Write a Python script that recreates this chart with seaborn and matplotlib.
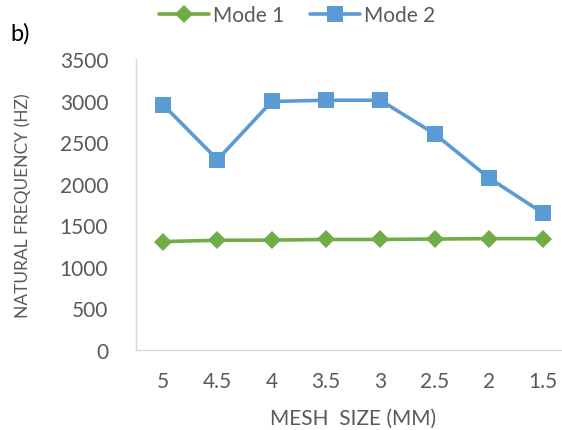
import matplotlib
matplotlib.use("Agg")
import matplotlib.pyplot as plt
import seaborn as sns
import pandas as pd

mesh_sizes = ["5", "4.5", "4", "3.5", "3", "2.5", "2", "1.5"]
mode1 = [1305, 1320, 1322, 1330, 1330, 1335, 1340, 1340]
mode2 = [2950, 2290, 2990, 3005, 3005, 2600, 2070, 1645]

sns.set_theme(style="white")
plt.rcParams["font.family"] = ["Lato", "DejaVu Sans"]

df = pd.DataFrame({
    "mesh": mesh_sizes * 2,
    "freq": mode1 + mode2,
    "mode": ["Mode 1"] * len(mode1) + ["Mode 2"] * len(mode2),
})

fig = plt.figure(figsize=(5.62, 4.31), dpi=100)
ax = fig.add_axes([0.242, 0.1856, 0.773, 0.675])

palette = {"Mode 1": "#70AD47", "Mode 2": "#5B9BD5"}
markers = {"Mode 1": "D", "Mode 2": "s"}
sizes = {"Mode 1": 9.5, "Mode 2": 12}

for mode in ["Mode 1", "Mode 2"]:
    sub = df[df["mode"] == mode]
    sns.lineplot(data=sub, x="mesh", y="freq", ax=ax, color=palette[mode],
                 marker=markers[mode], markersize=sizes[mode], linewidth=2.6,
                 markeredgewidth=0, label=mode, sort=False)

ax.set_xlim(-0.5, len(mesh_sizes) - 0.5)
ax.set_ylim(0, 3500)
ax.set_yticks(range(0, 3501, 500))

txt = "#595959"
ax.tick_params(axis="both", colors=txt, labelsize=15, length=0)
ax.tick_params(axis="x", pad=15)
ax.tick_params(axis="y", pad=20)

for side in ["top", "right"]:
    ax.spines[side].set_visible(False)
for side in ["left", "bottom"]:
    ax.spines[side].set_color("#D9D9D9")
    ax.spines[side].set_linewidth(1.0)

ax.set_xlabel("MESH  SIZE (MM)", color=txt, fontsize=15, labelpad=12)
ax.set_ylabel("NATURAL FREQUENCY (HZ)", color=txt, fontsize=12.5, labelpad=21)

leg = ax.legend(loc="upper center", bbox_to_anchor=(0.371, 1.25), ncol=2,
                frameon=False, fontsize=15, handlelength=2.4,
                columnspacing=1.2, handletextpad=0.2)
for t in leg.get_texts():
    t.set_color(txt)

fig.text(0.018, 0.905, "b)", fontsize=17, color="black")

fig.savefig("out.png", dpi=100)
